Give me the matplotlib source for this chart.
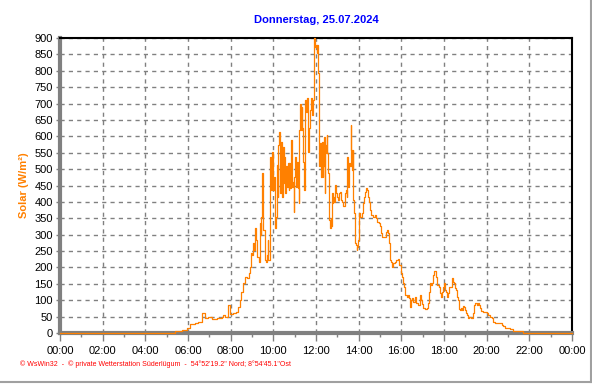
"""Solar radiation over one day (WsWin32 style daily chart)."""

import matplotlib

matplotlib.use("Agg")
import matplotlib.pyplot as plt  # noqa: E402
from matplotlib.lines import Line2D  # noqa: E402
from matplotlib.ticker import FixedLocator, MultipleLocator  # noqa: E402

plt.rcParams["font.family"] = ["Liberation Sans", "DejaVu Sans"]

TITLE = "Donnerstag, 25.07.2024"
YLABEL = "Solar (W/m²)"
FOOTER = ("© WsWin32  -  © private Wetterstation Süderlügum  -  "
          "54°52'19.2\" Nord; 8°54'45.1\"Ost")

# time of day in hours, solar radiation in W/m²
hours = [
    0.0, 5.39, 5.70, 5.94, 6.09, 6.33, 6.47, 6.64, 6.80, 6.94, 7.11, 7.35, 7.58,
    7.64, 7.73, 7.89, 7.97, 8.12, 8.26, 8.34, 8.42, 8.50, 8.58, 8.66, 8.78, 8.85,
    8.89, 8.94, 9.00, 9.05, 9.09, 9.15, 9.20, 9.25, 9.31, 9.36, 9.41, 9.44, 9.48,
    9.53, 9.59, 9.64, 9.69, 9.74, 9.76, 9.83, 9.86, 9.90, 9.94, 9.98, 10.03,
    10.08, 10.13, 10.16, 10.20, 10.23, 10.28, 10.33, 10.36, 10.41, 10.44, 10.48,
    10.52, 10.56, 10.59, 10.64, 10.67, 10.72, 10.75, 10.80, 10.83, 10.88, 10.92,
    10.95, 10.98, 11.03, 11.06, 11.11, 11.14, 11.19, 11.22, 11.25, 11.28, 11.33,
    11.36, 11.41, 11.44, 11.48, 11.52, 11.56, 11.61, 11.64, 11.69, 11.72, 11.77,
    11.80, 11.84, 11.89, 11.92, 11.97, 12.00, 12.03, 12.06, 12.09, 12.13, 12.16,
    12.19, 12.22, 12.25, 12.28, 12.31, 12.34, 12.38, 12.41, 12.44, 12.47, 12.50,
    12.53, 12.56, 12.59, 12.63, 12.66, 12.69, 12.72, 12.75, 12.78, 12.81, 12.84,
    12.88, 12.91, 12.94, 12.97, 13.03, 13.06, 13.13, 13.16, 13.22, 13.25, 13.28,
    13.34, 13.38, 13.41, 13.44, 13.47, 13.50, 13.56, 13.59, 13.63, 13.66, 13.69,
    13.72, 13.75, 13.78, 13.81, 13.84, 13.88, 13.91, 13.94, 13.97, 14.00, 14.03,
    14.06, 14.16, 14.20, 14.25, 14.31, 14.36, 14.41, 14.44, 14.48, 14.53, 14.59,
    14.67, 14.75, 14.83, 14.87, 14.94, 15.00, 15.06, 15.11, 15.16, 15.22, 15.28,
    15.34, 15.39, 15.44, 15.48, 15.53, 15.58, 15.62, 15.69, 15.77, 15.84, 15.91,
    15.97, 16.03, 16.08, 16.13, 16.19, 16.25, 16.31, 16.36, 16.41, 16.47, 16.52,
    16.56, 16.63, 16.67, 16.78, 16.86, 16.91, 16.95, 17.03, 17.11, 17.19, 17.25,
    17.28, 17.34, 17.39, 17.44, 17.47, 17.52, 17.56, 17.61, 17.66, 17.77, 17.81,
    17.86, 17.91, 17.95, 18.00, 18.05, 18.09, 18.13, 18.17, 18.22, 18.31, 18.36,
    18.39, 18.44, 18.47, 18.52, 18.56, 18.61, 18.66, 18.70, 18.75, 18.80, 18.84,
    18.91, 18.95, 19.00, 19.05, 19.09, 19.14, 19.19, 19.25, 19.31, 19.38, 19.42,
    19.47, 19.53, 19.58, 19.63, 19.69, 19.75, 19.81, 19.92, 20.00, 20.08, 20.16,
    20.23, 20.31, 20.39, 20.70, 20.78, 20.86, 21.09, 21.25, 21.72, 24.0,
]
solar = [
    0, 5, 10, 16, 26, 30, 35, 60, 45, 50, 42, 45, 50,
    56, 50, 85, 58, 62, 65, 80, 100, 126, 152, 172, 168, 183,
    202, 244, 238, 275, 253, 320, 284, 233, 218, 335, 300, 355, 488,
    314, 223, 218, 238, 284, 223, 477, 538, 436, 553, 436, 476,
    320, 355, 512, 416, 574, 614, 426, 584, 416, 568, 457,
    538, 426, 508, 446, 518, 436, 518, 441, 589, 446, 460,
    370, 477, 538, 446, 523, 441, 396, 619, 700, 619, 690,
    626, 523, 436, 711, 675, 716, 690, 553, 626, 680, 716,
    665, 711, 833, 900, 874, 880, 853, 880, 792, 518, 508,
    579, 487, 477, 584, 477, 508, 599, 426, 574, 548, 604,
    548, 487, 446, 345, 320, 350, 325, 426, 396, 416, 401,
    416, 451, 426, 416, 406, 426, 431, 406, 401, 396, 386,
    406, 426, 436, 416, 538, 446, 518, 508, 635, 558, 498,
    558, 406, 365, 325, 274, 269, 253, 263, 284, 345, 365,
    355, 365, 396, 416, 431, 441, 436, 416, 401, 375, 360,
    355, 360, 350, 340, 335, 325, 304, 294, 292, 294, 309,
    314, 304, 274, 223, 218, 202, 213, 218, 223, 225, 208,
    182, 172, 152, 141, 116, 111, 116, 106, 80, 101, 106,
    96, 111, 91, 86, 116, 101, 88, 75, 73, 75, 91,
    126, 152, 145, 152, 177, 190, 190, 172, 146, 141, 121,
    111, 126, 141, 152, 131, 126, 111, 121, 141, 141, 152,
    167, 157, 152, 136, 131, 111, 101, 72, 70, 75, 70,
    82, 78, 70, 60, 55, 47, 50, 45, 45, 60, 85,
    91, 85, 93, 85, 75, 68, 65, 65, 60, 55, 50,
    45, 34, 29, 24, 20, 15, 12, 7, 0, 0,
]
xtick_hours = list(range(0, 25, 2))
xtick_labels = [f"{h % 24:02d}:00" for h in xtick_hours]
ytick_values = list(range(0, 901, 50))

ORANGE = "#FF8000"
GRIDC = "#808080"
SPINE = "#808080"

fig = plt.figure(figsize=(5.92, 3.84), dpi=100, facecolor="white")
ax = fig.add_axes([60 / 592, 1 - 333 / 384, 512 / 592, 295 / 384])

ax.plot(hours, solar, color=ORANGE, lw=0.9, drawstyle="steps-post",
        zorder=3, clip_on=False)

ax.set_xlim(0, 24)
ax.set_ylim(0, 900)
ax.xaxis.set_major_locator(FixedLocator(xtick_hours))
ax.xaxis.set_minor_locator(MultipleLocator(1))
ax.set_xticklabels(xtick_labels)
ax.yaxis.set_major_locator(FixedLocator(ytick_values))
ax.yaxis.set_minor_locator(MultipleLocator(10))

ax.grid(True, which="major", color=GRIDC, lw=1.0, ls=(0, (3, 3)), zorder=1)
ax.set_axisbelow(True)

for s in ("top", "right"):
    ax.spines[s].set_color("black")
    ax.spines[s].set_linewidth(1.5)
for s in ("left", "bottom"):
    ax.spines[s].set_color(SPINE)
    ax.spines[s].set_linewidth(3)

ax.tick_params(axis="x", which="major", length=6, width=1, color=SPINE,
               labelsize=8, pad=3, direction="out")
ax.tick_params(axis="x", which="minor", length=3, width=1, color=SPINE,
               direction="out")
ax.tick_params(axis="y", which="major", length=3, width=1, color=SPINE,
               labelsize=8, pad=2, direction="out")
ax.tick_params(axis="y", which="minor", length=1.5, width=0.8, color=SPINE,
               direction="out")

ax.set_title(TITLE, color="#0000FF", fontsize=8, fontweight="bold", pad=11)
ax.set_ylabel(YLABEL, color=ORANGE, fontsize=8, fontweight="bold", labelpad=4)

fig.text(20 / 592, 1 - 364 / 384, FOOTER, color="#FF0000", fontsize=5,
         ha="left", va="center")

# light panel edge on the right and bottom
fig.add_artist(Line2D([590.5 / 592, 590.5 / 592], [1 - 382 / 384, 1],
                      transform=fig.transFigure, color="#A0A0A0", lw=1.5))
fig.add_artist(Line2D([0, 590.5 / 592], [1 - 382 / 384, 1 - 382 / 384],
                      transform=fig.transFigure, color="#A0A0A0", lw=1.5))

fig.savefig("out.png", dpi=100, facecolor="white")
